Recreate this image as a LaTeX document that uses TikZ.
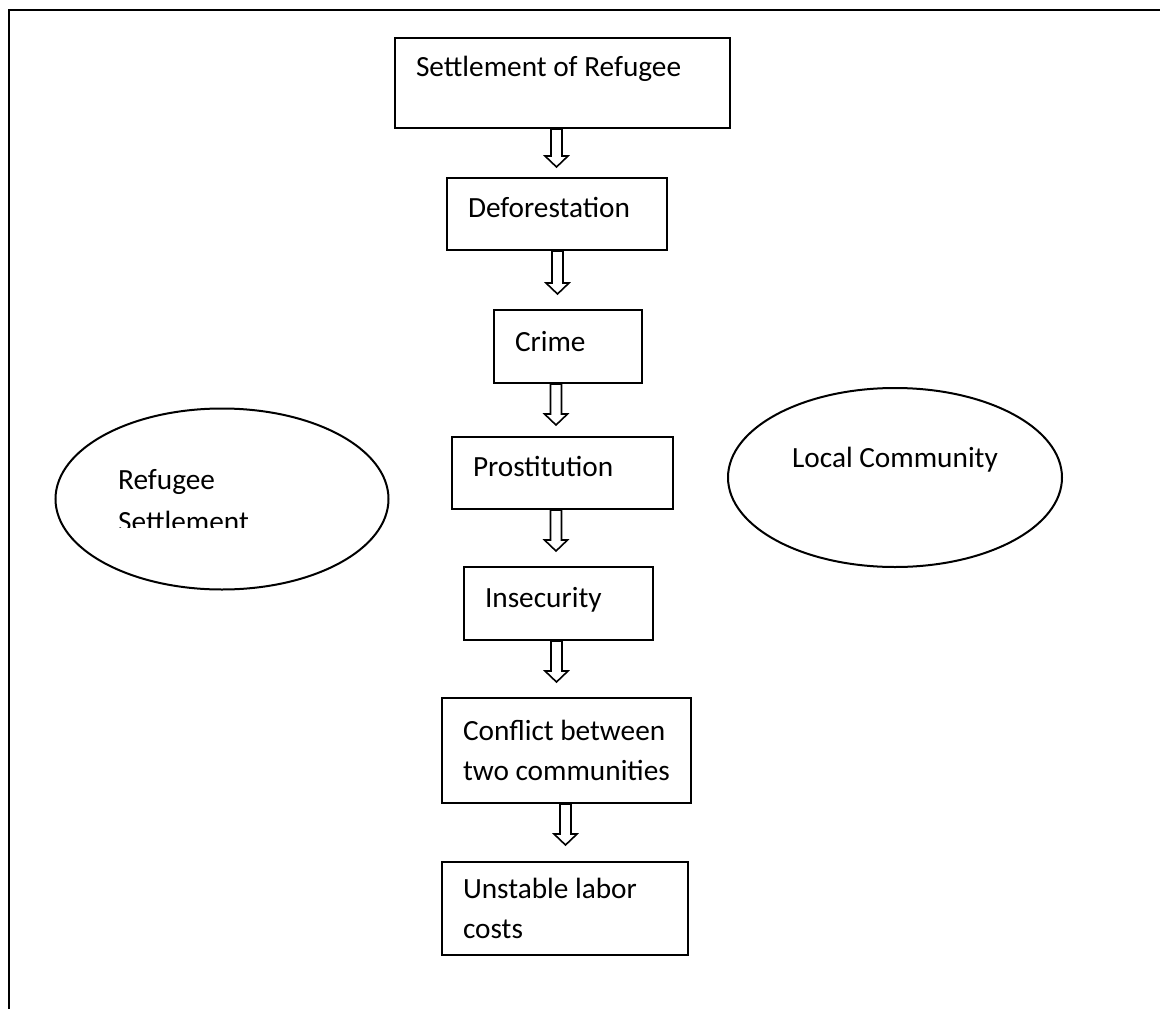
\documentclass[tikz,border=0pt]{standalone}
\usepackage{fontspec}
\setmainfont{Carlito}
\usetikzlibrary{calc,shapes.geometric}
\newcommand{\boxfont}{\fontsize{29.3pt}{40pt}\selectfont}
\tikzset{
	stepbox/.style={draw, line width=2pt, rectangle, align=flush left, inner xsep=21pt, inner ysep=0pt, font=\boxfont},
	oneline/.style={text height=20pt, text depth=#1},
	blob/.style={draw, line width=2pt, ellipse, font=\boxfont},
	hollow/.style={draw, line width=1.6pt, fill=white, line join=miter},
}
\newcommand{\hollowdown}[4]{%
	\path (#3,0 |- #1.south) coordinate (s) (#3,0 |- #2.north) coordinate (t);
	\draw[hollow] ($(s)+(-5.5,0)$) -- ($(t)+(-5.5,-#4-11)$) -- ($(t)+(-11.5,-#4-11)$) -- ($(t)+(0,-#4)$)
		-- ($(t)+(11.5,-#4-11)$) -- ($(t)+(5.5,-#4-11)$) -- ($(s)+(5.5,0)$) -- cycle;
}

\begin{document}
\begin{tikzpicture}[x=1pt, y=-1pt]
		\useasboundingbox (0,0) rectangle (1160,1009);
		\draw[line width=2.5pt] (9,1009) -- (9,10) -- (1160,10);
		\node[stepbox, oneline=33pt, text width=293pt, minimum height=90pt] (b1) at (562.5,83) {Settlement of Refugee};
		\node[stepbox, oneline=12.6pt, text width=178pt, minimum height=72pt] (b2) at (557,214) {Deforestation};
		\node[stepbox, oneline=10.6pt, text width=106pt, minimum height=73pt] (b3) at (568,346.5) {Crime};
		\node[stepbox, oneline=13.6pt, text width=179pt, minimum height=72pt] (b4) at (562.5,473) {Prostitution};
		\node[stepbox, oneline=11.6pt, text width=147pt, minimum height=73pt] (b5) at (558.5,603.5) {Insecurity};
		\node[stepbox, text width=207pt, minimum height=105pt] (b6) at (566.5,750.5) {Conflict between\\\mbox{two communities}};
		\node[stepbox, text width=204pt, minimum height=93pt] (b7) at (565,908.5) {Unstable labor\\costs};
		\node[blob, minimum width=333pt, minimum height=181pt] (refugee) at (222,499) {};
		\begin{scope}
			\clip (100,440) rectangle (330,527.5);
			\node[font=\fontsize{29.3pt}{42pt}\selectfont, align=flush left, text width=208pt, anchor=base west, inner sep=0pt] (refugeetext) at (118,489.3) {Refugee\\Settlement};
		\end{scope}
		\node[blob, oneline=39.6pt, minimum width=334pt, minimum height=179pt] (local) at (895,477.5) {Local Community};
		\hollowdown{b1}{b2}{556.5}{10}
		\hollowdown{b2}{b3}{557.5}{15}
		\hollowdown{b3}{b4}{556}{11}
		\hollowdown{b4}{b5}{556}{15}
		\hollowdown{b5}{b6}{556.5}{15}
		\hollowdown{b6}{b7}{565.5}{16}
	\end{tikzpicture}
\end{document}
